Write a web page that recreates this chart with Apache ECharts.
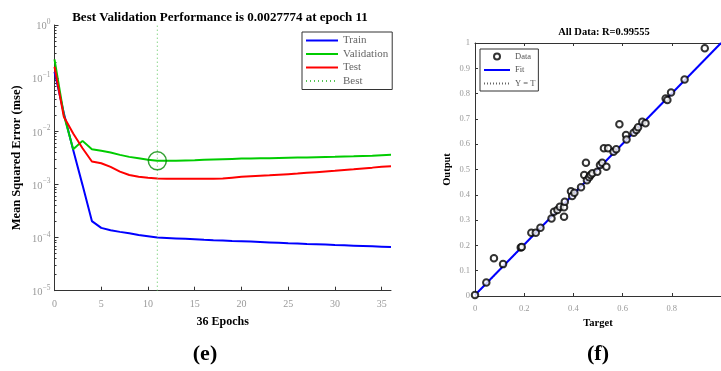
<!DOCTYPE html>
<html><head><meta charset="utf-8">
<script src="https://cdn.jsdelivr.net/npm/echarts@6/dist/echarts.min.js"></script>
<style>html,body{margin:0;padding:0;background:#fff}#c{width:721px;height:371px}</style>
</head><body><div id="c"></div><script>
// ---- Panel (e): training performance ----
const epochs = [0,1,2,3,4,5,6,7,8,9,10,11,12,13,14,15,16,17,18,19,20,21,22,23,24,25,26,27,28,29,30,31,32,33,34,35,36];
const trainMSE = [0.132,0.0218,0.00445,0.00097,0.000204,0.000152,0.000137,0.000128,0.000120,0.000112,0.000106,0.000100,0.0000985,0.0000965,0.0000945,0.0000925,0.0000905,0.0000890,0.0000880,0.0000865,0.0000855,0.0000840,0.0000825,0.0000810,0.0000795,0.0000780,0.0000775,0.0000760,0.0000750,0.0000740,0.0000725,0.0000715,0.0000705,0.0000695,0.0000685,0.0000675,0.0000665];
const validMSE = [0.225,0.0203,0.00457,0.0066,0.00457,0.0043,0.0040,0.0036,0.0033,0.0031,0.0029,0.0027774,0.00278,0.00280,0.00283,0.00286,0.00290,0.00294,0.00298,0.00302,0.00306,0.00308,0.00310,0.00312,0.00315,0.00318,0.00320,0.00322,0.00325,0.00328,0.00330,0.00334,0.00338,0.00343,0.00348,0.00355,0.00360];
const testMSE = [0.164,0.0187,0.0091,0.0048,0.0027,0.0025,0.00214,0.00174,0.00150,0.00139,0.00133,0.00129,0.00128,0.00128,0.00128,0.00128,0.00128,0.00128,0.00129,0.00134,0.00139,0.00142,0.00145,0.00148,0.00152,0.00156,0.00160,0.00165,0.00170,0.00175,0.00180,0.00187,0.00193,0.00200,0.00207,0.00215,0.00220];
const bestEpoch = 11;
const bestPerf = 0.0027774;
const perfTitle = 'Best Validation Performance is 0.0027774 at epoch 11';
const perfLegend = ['Train','Validation','Test','Best'];

// ---- Panel (f): regression ----
const targets = [0.000,0.046,0.077,0.114,0.186,0.190,0.229,0.247,0.266,0.311,0.321,0.335,0.345,0.362,0.365,0.362,0.390,0.395,0.404,0.431,0.444,0.451,0.455,0.464,0.470,0.477,0.497,0.508,0.517,0.534,0.524,0.541,0.563,0.574,0.587,0.614,0.616,0.645,0.656,0.663,0.680,0.693,0.775,0.782,0.797,0.852,0.934];
const outputs = [0.004,0.053,0.149,0.126,0.192,0.194,0.250,0.250,0.270,0.306,0.333,0.340,0.353,0.351,0.373,0.313,0.414,0.395,0.408,0.430,0.478,0.527,0.458,0.469,0.478,0.485,0.491,0.518,0.527,0.511,0.584,0.584,0.570,0.580,0.679,0.636,0.619,0.645,0.656,0.667,0.689,0.683,0.781,0.775,0.804,0.856,0.979];
const fitX = [0, 1];
const fitY = [0.004, 1.000];
const identX = [0, 1];
const identY = [0, 1];
const regTitle = 'All Data: R=0.99555';
const regLegend = ['Data','Fit','Y = T'];

const SERIF = '"Liberation Serif", "DejaVu Serif", serif';
function expStr(v){ const e = Math.round(Math.log10(v)); return String(e).replace('-','\u2212'); }

const chart = echarts.init(document.getElementById('c'), null, {renderer:'canvas'});
const axisLineStyle = {lineStyle:{color:'#333', width:1}};
const hideSym = {opacity:0};
const option = {
  animation:false,
  backgroundColor:'#fff',
  grid:[
    {left:54.5, top:25, width:336.5, height:265.7},
    {left:475, top:43, width:251.5, height:253}
  ],
  xAxis:[
    {gridIndex:0, type:'value', min:0, max:36, interval:5,
     axisLine:axisLineStyle, axisTick:{inside:true, length:4, lineStyle:{color:'#333'}},
     splitLine:{show:false},
     axisLabel:{color:'#999', fontFamily:SERIF, fontSize:10, margin:9, showMaxLabel:false},
     name:'36 Epochs', nameLocation:'middle', nameGap:25,
     nameTextStyle:{color:'#000', fontFamily:SERIF, fontWeight:'bold', fontSize:12}},
    {gridIndex:1, type:'value', min:0, max:1, interval:0.2,
     axisLine:axisLineStyle, axisTick:{inside:true, length:3, lineStyle:{color:'#333'}},
     splitLine:{show:false},
     axisLabel:{color:'#999', fontFamily:SERIF, fontSize:8.5, margin:8, showMaxLabel:false},
     name:'Target', nameLocation:'middle', nameGap:21,
     nameTextStyle:{color:'#000', fontFamily:SERIF, fontWeight:'bold', fontSize:10.5}},
    {gridIndex:1, type:'value', min:0, max:1, interval:0.2, position:'top',
     axisLine:axisLineStyle, axisTick:{inside:true, length:3, lineStyle:{color:'#333'}},
     splitLine:{show:false}, axisLabel:{show:false}}
  ],
  yAxis:[
    {gridIndex:0, type:'log', logBase:10, min:1e-5, max:1,
     axisLine:{show:true, lineStyle:{color:'#333', width:1}},
     axisTick:{show:true, inside:true, length:4, lineStyle:{color:'#333'}},
     minorTick:{show:true, splitNumber:9, length:2, lineStyle:{color:'#333'}},
     splitLine:{show:false},
     axisLabel:{margin:4, formatter:function(v){return '{b|10}{s|'+expStr(v)+'}';},
       rich:{b:{color:'#999', fontFamily:SERIF, fontSize:10.5, lineHeight:14, verticalAlign:'bottom'},
             s:{color:'#999', fontFamily:SERIF, fontSize:7.5, lineHeight:14, verticalAlign:'top'}}},
     name:'Mean Squared Error (mse)', nameLocation:'middle', nameGap:31, nameRotate:90,
     nameTextStyle:{color:'#000', fontFamily:SERIF, fontWeight:'bold', fontSize:12.5}},
    {gridIndex:1, type:'value', min:0, max:1, interval:0.1,
     axisLine:{show:true, lineStyle:{color:'#333', width:1}},
     axisTick:{show:true, inside:true, length:3, lineStyle:{color:'#333'}},
     splitLine:{show:false},
     axisLabel:{color:'#999', fontFamily:SERIF, fontSize:8.5, margin:5},
     name:'Output', nameLocation:'middle', nameGap:22, nameRotate:90,
     nameTextStyle:{color:'#000', fontFamily:SERIF, fontWeight:'bold', fontSize:10.5}}
  ],
  legend:[
    {data:perfLegend.map(n=>({name:n, itemStyle:hideSym})), orient:'vertical', left:302, top:32, itemWidth:32, itemHeight:10, itemGap:2.5,
     padding:[3,4,3,3], borderColor:'#333', borderWidth:1, backgroundColor:'#fff',
     textStyle:{color:'#666', fontFamily:SERIF, fontSize:11}},
    {data:[{name:regLegend[0]},{name:regLegend[1], itemStyle:hideSym},{name:regLegend[2], itemStyle:hideSym}],
     orient:'vertical', left:480, top:49, itemWidth:26, itemHeight:6, itemGap:4.5,
     padding:[3,3,3,3], borderColor:'#333', borderWidth:1, backgroundColor:'#fff',
     textStyle:{color:'#555', fontFamily:SERIF, fontSize:8.5}}
  ],
  series:[
    {name:'Train', type:'line', xAxisIndex:0, yAxisIndex:0, symbol:'none',
     data:epochs.map((e,i)=>[e,trainMSE[i]]), lineStyle:{color:'#0000ff', width:2}, itemStyle:{color:'#0000ff'}},
    {name:'Validation', type:'line', xAxisIndex:0, yAxisIndex:0, symbol:'none',
     data:epochs.map((e,i)=>[e,validMSE[i]]), lineStyle:{color:'#00cc00', width:2}, itemStyle:{color:'#00cc00'}},
    {name:'Test', type:'line', xAxisIndex:0, yAxisIndex:0, symbol:'none',
     data:epochs.map((e,i)=>[e,testMSE[i]]), lineStyle:{color:'#ff0000', width:2}, itemStyle:{color:'#ff0000'}},
    {name:'Best', type:'line', xAxisIndex:0, yAxisIndex:0, symbol:'none',
     data:[[bestEpoch,1e-5],[bestEpoch,1]], lineStyle:{color:'#55c455', width:1, type:[1,3]}, itemStyle:{color:'#55c455'}},
    {name:'BestPoint', type:'scatter', xAxisIndex:0, yAxisIndex:0, symbol:'circle', symbolSize:18,
     data:[[bestEpoch,bestPerf]], itemStyle:{color:'rgba(0,0,0,0)', borderColor:'#008a00', borderWidth:1.5}, z:5},
    {name:'Y = T', type:'line', xAxisIndex:1, yAxisIndex:1, symbol:'none',
     data:identX.map((x,i)=>[x,identY[i]]), lineStyle:{color:'#666', width:1, type:[1,2]}, itemStyle:{color:'#666'}},
    {name:'Fit', type:'line', xAxisIndex:1, yAxisIndex:1, symbol:'none',
     data:fitX.map((x,i)=>[x,fitY[i]]), lineStyle:{color:'#0000ff', width:2}, itemStyle:{color:'#0000ff'}},
    {name:'Data', type:'scatter', xAxisIndex:1, yAxisIndex:1, symbol:'emptyCircle', symbolSize:6.5,
     data:targets.map((t,i)=>[t,outputs[i]]), itemStyle:{color:'#000', borderWidth:0.9}, z:5}
  ],
  graphic:[
    {type:'text', x:220, y:18, style:{text:perfTitle, font:'bold 13px '+SERIF, fill:'#000', textAlign:'center', textVerticalAlign:'middle'}},
    {type:'text', x:604, y:32, style:{text:regTitle, font:'bold 10.5px '+SERIF, fill:'#000', textAlign:'center', textVerticalAlign:'middle'}},
    {type:'text', x:205, y:354, style:{text:'(e)', font:'bold 22px '+SERIF, fill:'#000', textAlign:'center', textVerticalAlign:'middle'}},
    {type:'text', x:598, y:354, style:{text:'(f)', font:'bold 22px '+SERIF, fill:'#000', textAlign:'center', textVerticalAlign:'middle'}}
  ]
};
chart.setOption(option);
</script></body></html>
